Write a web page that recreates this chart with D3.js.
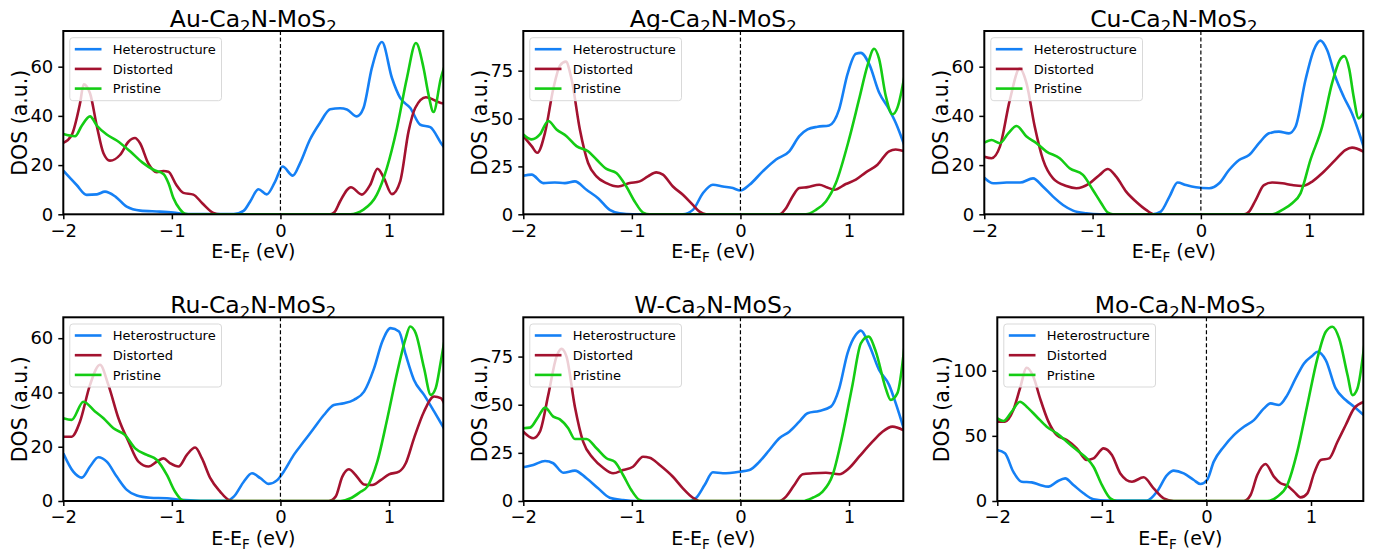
<!DOCTYPE html>
<html>
<head>
<meta charset="utf-8">
<script src="https://cdn.jsdelivr.net/npm/d3@7"></script>
<style>
  body { margin: 0; background: #fff; }
  text { font-family: "DejaVu Sans", sans-serif; fill: #000; }
</style>
</head>
<body>
<svg id="fig" width="1382" height="556"></svg>
<script>
// x range and tick labels shared by every panel
var xDomain = [-2, 1.5];
var xTicks = [-2, -1, 0, 1];
var seriesNames = ['Heterostructure', 'Distorted', 'Pristine'];
var seriesColors = ['#1580f5', '#a3122f', '#14cc14'];

// Au
var auHetero = [[-2,17.7],[-1.877,11.9],[-1.785,7.9],[-1.69,8.1],[-1.616,9.2],[-1.52,7.2],[-1.416,3.1],[-1.29,1.5],[-1.11,1.1],[-0.986,0.7],[-0.86,0.1],[-0.43,0.1],[-0.34,1.4],[-0.28,5.1],[-0.203,10.2],[-0.126,8.1],[-0.049,13.3],[0.02,19.4],[0.114,15.7],[0.18,20.7],[0.27,30.2],[0.366,37.3],[0.458,42.7],[0.55,43.1],[0.612,42.6],[0.704,39.8],[0.765,43.2],[0.842,59.5],[0.935,70],[1.027,55.4],[1.103,47.3],[1.196,43.2],[1.288,36.4],[1.38,35.4],[1.478,29],[1.51,27]];
var auDistorted = [[-2,29],[-1.923,32.2],[-1.846,45.1],[-1.812,52.8],[-1.754,49.2],[-1.69,35.6],[-1.63,24.8],[-1.57,21.8],[-1.478,24.1],[-1.4,29.5],[-1.34,31],[-1.293,28.9],[-1.217,20.7],[-1.14,17.1],[-1.078,17.6],[-1.032,17.3],[-0.96,12],[-0.894,8.7],[-0.802,8],[-0.72,4.5],[-0.618,0.6],[-0.556,0],[0.458,0],[0.5,1],[0.55,5.3],[0.649,11],[0.75,8],[0.827,12],[0.894,18.5],[0.95,15],[1.027,8.2],[1.103,13.4],[1.18,33.7],[1.241,43.2],[1.34,47.6],[1.478,45.2],[1.51,45]];
var auPristine = [[-2,32.6],[-1.892,31.7],[-1.83,36],[-1.754,39.8],[-1.69,36],[-1.6,32.4],[-1.508,30],[-1.385,25.6],[-1.27,21],[-1.17,18.1],[-1.078,16.4],[-1.03,12.5],[-0.986,6.6],[-0.925,2],[-0.88,0.2],[-0.85,0],[0.642,0],[0.765,1.9],[0.888,8],[0.98,18.8],[1.073,35],[1.165,55.4],[1.248,69.6],[1.318,59.5],[1.364,48.6],[1.41,41.6],[1.478,55.4],[1.51,60]];

// Ag
var agHetero = [[-2,20.1],[-1.923,20.7],[-1.816,16.3],[-1.71,16.6],[-1.617,16.3],[-1.525,17.2],[-1.418,12.8],[-1.311,8.4],[-1.204,2.3],[-1.112,0.5],[-0.99,0],[-0.53,0],[-0.438,2.3],[-0.346,11],[-0.254,15.4],[-0.162,14.5],[-0.07,13.7],[0,12.4],[0.083,15.4],[0.205,22.4],[0.328,28.6],[0.45,32.9],[0.542,40.8],[0.618,44.3],[0.71,45.7],[0.817,46.4],[0.909,54.8],[0.986,73.2],[1.063,83.8],[1.109,84.3],[1.185,78.5],[1.277,63.6],[1.369,54.8],[1.43,47.8],[1.51,36]];
var agDistorted = [[-2,40.8],[-1.923,35.6],[-1.871,32.1],[-1.8,42.6],[-1.724,65.4],[-1.663,77.6],[-1.608,79.7],[-1.556,70.6],[-1.479,44.3],[-1.403,26.8],[-1.326,19.8],[-1.234,16.3],[-1.127,14.5],[-1.02,16.3],[-0.928,17.2],[-0.852,19.8],[-0.775,21.9],[-0.714,20.7],[-0.622,14.5],[-0.53,10.2],[-0.438,4.9],[-0.377,1.4],[-0.316,0],[0.358,0],[0.42,3.2],[0.48,9.3],[0.542,13.7],[0.618,14.2],[0.726,15.4],[0.8,14],[0.864,12.8],[0.97,15.8],[1.063,18.1],[1.155,21.9],[1.262,25.9],[1.369,32.9],[1.43,33.8],[1.51,32.9]];
var agPristine = [[-2,41.7],[-1.923,39.1],[-1.847,41.7],[-1.77,48.7],[-1.694,44.3],[-1.602,40.8],[-1.51,35.6],[-1.403,32.9],[-1.326,28.6],[-1.234,23.7],[-1.143,21.6],[-1.051,14.5],[-0.974,6.7],[-0.897,0.9],[-0.836,0],[0.603,0],[0.695,2.3],[0.787,6.7],[0.879,16.3],[1.0,39.1],[1.093,60.1],[1.17,77.6],[1.231,86.4],[1.277,81.1],[1.338,61.9],[1.4,52.2],[1.446,55.7],[1.51,72]];

// Cu
var cuHetero = [[-2,14.9],[-1.917,12.6],[-1.794,12.9],[-1.67,12.9],[-1.55,14.6],[-1.457,11.2],[-1.365,7.2],[-1.273,3.8],[-1.18,1.5],[-1.058,0.4],[-0.936,0],[-0.445,0],[-0.37,1.1],[-0.29,7.2],[-0.215,12.9],[-0.138,11.9],[-0.046,11],[0.077,10.6],[0.169,12.6],[0.26,18],[0.353,22.1],[0.445,24.1],[0.537,28.9],[0.629,32.9],[0.721,33.6],[0.813,32.9],[0.874,35.6],[0.966,54.6],[1.043,66.8],[1.104,70.6],[1.166,66.8],[1.242,55.9],[1.319,47.8],[1.396,41],[1.51,26.5]];
var cuDistorted = [[-2,23.4],[-1.933,22.8],[-1.856,27.5],[-1.764,46.5],[-1.672,59.3],[-1.61,53.2],[-1.534,35.6],[-1.457,22.1],[-1.365,14.6],[-1.242,11.5],[-1.15,10.6],[-1.028,12.6],[-0.936,16],[-0.859,18.4],[-0.782,15.3],[-0.69,9.2],[-0.598,5.1],[-0.506,1.8],[-0.43,0],[0.399,0],[0.445,1.1],[0.506,5.8],[0.583,11.9],[0.66,12.9],[0.752,12.6],[0.843,11.9],[0.935,11.5],[1.028,13.3],[1.12,16.7],[1.242,22.1],[1.334,26.1],[1.396,27.1],[1.51,25.3]];
var cuPristine = [[-2,29.1],[-1.933,30.2],[-1.856,28.9],[-1.779,32.9],[-1.702,35.9],[-1.61,31.6],[-1.518,28.9],[-1.426,25.5],[-1.304,22.8],[-1.212,18.7],[-1.089,16],[-0.997,9.9],[-0.92,4.5],[-0.859,0.7],[-0.813,0],[0.66,0],[0.752,1.8],[0.843,4.5],[0.92,8.5],[1.012,22.1],[1.12,35.6],[1.211,53.2],[1.28,62.5],[1.325,64.3],[1.37,59],[1.41,48],[1.457,39],[1.51,42]];

// Ru
var ruHetero = [[-2,17.6],[-1.908,10.8],[-1.83,8.6],[-1.754,12.7],[-1.677,16.1],[-1.6,14.5],[-1.508,9],[-1.415,4.1],[-1.323,2],[-1.2,1.2],[-1.046,1],[-0.923,0.4],[-0.738,0.1],[-0.49,0.1],[-0.43,1.6],[-0.338,7.1],[-0.262,10.2],[-0.185,8.4],[-0.108,6.3],[-0.03,7.7],[0.03,10.8],[0.123,17],[0.215,21.9],[0.308,26.8],[0.4,31.7],[0.492,35.4],[0.585,36],[0.677,37.3],[0.77,40.3],[0.862,48.9],[0.938,58.8],[1.015,63.7],[1.092,62.5],[1.154,53.9],[1.23,44.6],[1.323,39.1],[1.415,33],[1.51,26.5]];
var ruDistorted = [[-2,23.7],[-1.923,23.7],[-1.846,29.3],[-1.754,42.8],[-1.662,50.2],[-1.585,42.8],[-1.492,30.5],[-1.4,21.9],[-1.308,14.5],[-1.215,12.7],[-1.138,14.5],[-1.077,15.7],[-1.015,13.9],[-0.938,12.7],[-0.862,17],[-0.785,19.7],[-0.723,15.7],[-0.646,8.4],[-0.554,3.4],[-0.477,0.4],[-0.43,0],[0.446,0],[0.508,1.6],[0.57,9],[0.63,11.7],[0.692,9.6],[0.77,6.1],[0.846,5.9],[0.923,7.7],[1.0,9.8],[1.092,10.8],[1.154,13.9],[1.23,23.1],[1.323,33],[1.415,38.5],[1.477,37.9],[1.51,35.8]];
var ruPristine = [[-2,30.5],[-1.923,29.9],[-1.815,36.6],[-1.708,33],[-1.63,30.5],[-1.538,26.8],[-1.431,24.3],[-1.338,19.4],[-1.23,17],[-1.138,15.1],[-1.046,9.6],[-0.97,3.4],[-0.908,0.4],[-0.862,0],[0.554,0],[0.646,1],[0.738,3.4],[0.8,5.3],[0.892,14.5],[0.985,30.5],[1.077,47.7],[1.154,60],[1.194,64.3],[1.246,61.8],[1.323,48.9],[1.385,39.1],[1.43,41.6],[1.477,51.4],[1.51,59]];

// W
var wHetero = [[-2,17.5],[-1.908,18.7],[-1.8,20.8],[-1.724,19.6],[-1.632,14.7],[-1.525,15.8],[-1.418,11.8],[-1.311,6.6],[-1.204,1.7],[-1.081,0.5],[-0.959,0],[-0.469,0],[-0.407,1.7],[-0.33,8.3],[-0.254,14.9],[-0.162,14.4],[-0.01,15.2],[0.083,16.1],[0.175,20.4],[0.267,26.5],[0.358,32.6],[0.45,36],[0.542,41.2],[0.618,45.6],[0.726,46.8],[0.833,49],[0.91,58.5],[0.986,76.7],[1.063,86.3],[1.109,88.5],[1.185,81.1],[1.277,68.1],[1.369,60.3],[1.43,50.8],[1.51,36.5]];
var wDistorted = [[-2,36],[-1.908,32.6],[-1.847,36],[-1.77,55.1],[-1.694,75],[-1.648,79],[-1.602,75],[-1.525,49],[-1.449,30.8],[-1.357,22.2],[-1.265,17.3],[-1.173,14.4],[-1.081,16.1],[-0.99,17.8],[-0.897,23],[-0.836,22.5],[-0.744,18.7],[-0.622,12.6],[-0.53,6.6],[-0.438,1.7],[-0.377,0],[0.358,0],[0.42,2.3],[0.496,8.3],[0.573,13.9],[0.665,14.4],[0.787,14.7],[0.91,13.9],[1.0,17],[1.093,23],[1.216,30.8],[1.308,36],[1.4,38.6],[1.51,36.5]];
var wPristine = [[-2,37.8],[-1.939,38.1],[-1.862,43.8],[-1.8,48.5],[-1.724,43.8],[-1.663,42.4],[-1.586,37.8],[-1.525,32.2],[-1.418,32.2],[-1.326,27.4],[-1.234,22.2],[-1.158,20.4],[-1.081,13.5],[-1.005,5.7],[-0.928,0.5],[-0.882,0],[0.573,0],[0.665,1.7],[0.757,4.9],[0.849,13.5],[0.94,34.3],[1.032,60.3],[1.109,81.9],[1.179,85.4],[1.247,77.6],[1.338,58.5],[1.384,52.5],[1.446,56],[1.51,80]];

// Mo
var moHetero = [[-2,39.1],[-1.927,36.6],[-1.847,22.5],[-1.767,14.8],[-1.671,14.3],[-1.591,12.3],[-1.511,11],[-1.431,14.8],[-1.351,17.4],[-1.272,12.3],[-1.176,5.9],[-1.08,1.3],[-0.952,0.3],[-0.569,0.3],[-0.473,7.2],[-0.377,19.9],[-0.313,23.3],[-0.217,21.2],[-0.121,16.1],[-0.058,13],[0.006,16.1],[0.07,30.2],[0.166,41.7],[0.262,50.6],[0.358,57],[0.454,62.1],[0.55,71.1],[0.613,74.9],[0.693,73.7],[0.773,81.3],[0.853,94.1],[0.933,105.6],[1.013,111.5],[1.061,114.6],[1.141,108.2],[1.236,86.4],[1.332,77.5],[1.412,72.4],[1.51,65.5]];
var moDistorted = [[-2,60.9],[-1.927,60.9],[-1.847,69.8],[-1.783,86.4],[-1.719,102.3],[-1.655,95.4],[-1.591,78.8],[-1.511,60.9],[-1.431,50.6],[-1.335,46.8],[-1.24,40.4],[-1.144,31.5],[-1.08,32.7],[-0.984,40.4],[-0.904,35.3],[-0.824,21.2],[-0.712,14.8],[-0.601,18.2],[-0.505,9.7],[-0.409,2],[-0.313,0],[0.358,0],[0.422,4.6],[0.486,19.9],[0.565,28.4],[0.645,18.7],[0.709,13.6],[0.773,11.8],[0.837,7.2],[0.901,2.8],[0.965,5.9],[1.029,21.2],[1.093,31.5],[1.173,32.7],[1.253,45.5],[1.332,58.3],[1.412,71.1],[1.51,76.2]];
var moPristine = [[-2,63.4],[-1.942,61.4],[-1.863,68.5],[-1.783,76.2],[-1.719,72.4],[-1.623,64.7],[-1.527,57],[-1.431,51.9],[-1.335,45.5],[-1.24,39.1],[-1.144,32.7],[-1.08,26.3],[-1.0,12.3],[-0.92,2],[-0.856,0],[0.581,0],[0.677,3.3],[0.773,12.3],[0.869,37.9],[0.965,73.7],[1.061,109.5],[1.141,129.9],[1.205,133.8],[1.269,124.8],[1.349,96.7],[1.397,81.3],[1.444,86.4],[1.51,120]];

var metals = ['Au', 'Ag', 'Cu', 'Ru', 'W', 'Mo'];
var panelSeries = [
  [auHetero, auDistorted, auPristine],
  [agHetero, agDistorted, agPristine],
  [cuHetero, cuDistorted, cuPristine],
  [ruHetero, ruDistorted, ruPristine],
  [wHetero, wDistorted, wPristine],
  [moHetero, moDistorted, moPristine]
];
var yMaxes = [74.5, 95.7, 74.5, 67.7, 95.4, 141];
var yTickSets = [[0, 20, 40, 60], [0, 25, 50, 75], [0, 20, 40, 60], [0, 20, 40, 60], [0, 25, 50, 75], [0, 50, 100]];

// axes boxes in pixels: left, top, width, height
var boxes = [
  [63.3, 31, 380, 183.3], [523.3, 31, 380, 183.3], [984.3, 31, 379, 183.3],
  [63.3, 317.3, 380, 183.7], [523.3, 317.3, 380, 183.7], [997.3, 317.3, 366, 183.7]
];

var svg = d3.select('#fig');
var fmt = d => d < 0 ? '\u2212' + Math.abs(d) : String(d);

metals.forEach(function(metal, i) {
  var b = boxes[i];
  var w = b[2], h = b[3];
  var g = svg.append('g').attr('transform', 'translate(' + b[0] + ',' + b[1] + ')');

  var x = d3.scaleLinear().domain(xDomain).range([0, w]);
  var y = d3.scaleLinear().domain([0, yMaxes[i]]).range([h, 0]);

  g.append('clipPath').attr('id', 'clip' + i)
    .append('rect').attr('width', w).attr('height', h);

  var line = d3.line().x(d => x(d[0])).y(d => y(d[1])).curve(d3.curveMonotoneX);

  var plot = g.append('g').attr('clip-path', 'url(#clip' + i + ')');
  plot.selectAll('path.dos')
    .data(panelSeries[i])
    .join('path')
      .attr('class', 'dos')
      .attr('d', line)
      .attr('fill', 'none')
      .attr('stroke', (d, j) => seriesColors[j])
      .attr('stroke-width', 2.6)
      .attr('stroke-linejoin', 'round');

  // Fermi level
  g.append('line')
    .attr('x1', x(0)).attr('x2', x(0))
    .attr('y1', 0).attr('y2', h)
    .attr('stroke', '#000')
    .attr('stroke-width', 1.2)
    .attr('stroke-dasharray', '4,2.5');

  // axes
  var xa = g.append('g').attr('transform', 'translate(0,' + h + ')')
    .call(d3.axisBottom(x).tickValues(xTicks).tickSize(5).tickPadding(4.5).tickFormat(fmt));
  var ya = g.append('g')
    .call(d3.axisLeft(y).tickValues(yTickSets[i]).tickSize(5).tickPadding(5).tickFormat(fmt));
  [xa, ya].forEach(function(a) {
    a.select('.domain').remove();
    a.selectAll('.tick line').attr('stroke', '#000').attr('stroke-width', 1.5);
    a.selectAll('.tick text').attr('font-size', 18).attr('font-family', '"DejaVu Sans", sans-serif').attr('fill', '#000');
  });

  // frame
  g.append('rect')
    .attr('width', w).attr('height', h)
    .attr('fill', 'none').attr('stroke', '#000').attr('stroke-width', 2);

  // y label
  var yb = ya.node().getBBox();
  g.append('text')
    .attr('transform', 'translate(' + (yb.x - 3.5) + ',' + (h / 2) + ') rotate(-90)')
    .attr('text-anchor', 'middle')
    .attr('font-size', 20.5)
    .text('DOS (a.u.)');

  // x label
  var xl = g.append('text')
    .attr('x', w / 2).attr('y', h + 44)
    .attr('text-anchor', 'middle')
    .attr('font-size', 19);
  xl.append('tspan').text('E-E');
  xl.append('tspan').attr('font-size', 13.5).attr('dy', 4).text('F');
  xl.append('tspan').attr('dy', -4).text(' (eV)');

  // title
  var t = g.append('text')
    .attr('x', w / 2).attr('y', -4.3)
    .attr('text-anchor', 'middle')
    .attr('font-size', 23.5);
  t.append('tspan').text(metal + '-Ca');
  t.append('tspan').attr('font-size', 16.5).attr('dy', 5).text('2');
  t.append('tspan').attr('dy', -5).text('N-MoS');
  t.append('tspan').attr('font-size', 16.5).attr('dy', 5).text('2');

  // legend
  var lg = g.append('g').attr('transform', 'translate(6.5,6.7)');
  lg.append('rect')
    .attr('width', 151.7).attr('height', 63).attr('rx', 3)
    .attr('fill', '#fff').attr('fill-opacity', 0.8)
    .attr('stroke', '#d9d9d9').attr('stroke-width', 1);
  var items = lg.selectAll('g.item')
    .data(seriesNames)
    .join('g')
      .attr('class', 'item')
      .attr('transform', (d, j) => 'translate(0,' + (11.5 + j * 19.7) + ')');
  items.append('line')
    .attr('x1', 5).attr('x2', 31.7)
    .attr('stroke', (d, j) => seriesColors[j])
    .attr('stroke-width', 2.6);
  items.append('text')
    .attr('x', 43).attr('y', 4.7)
    .attr('font-size', 13)
    .text(d => d);
});
</script>
</body>
</html>
